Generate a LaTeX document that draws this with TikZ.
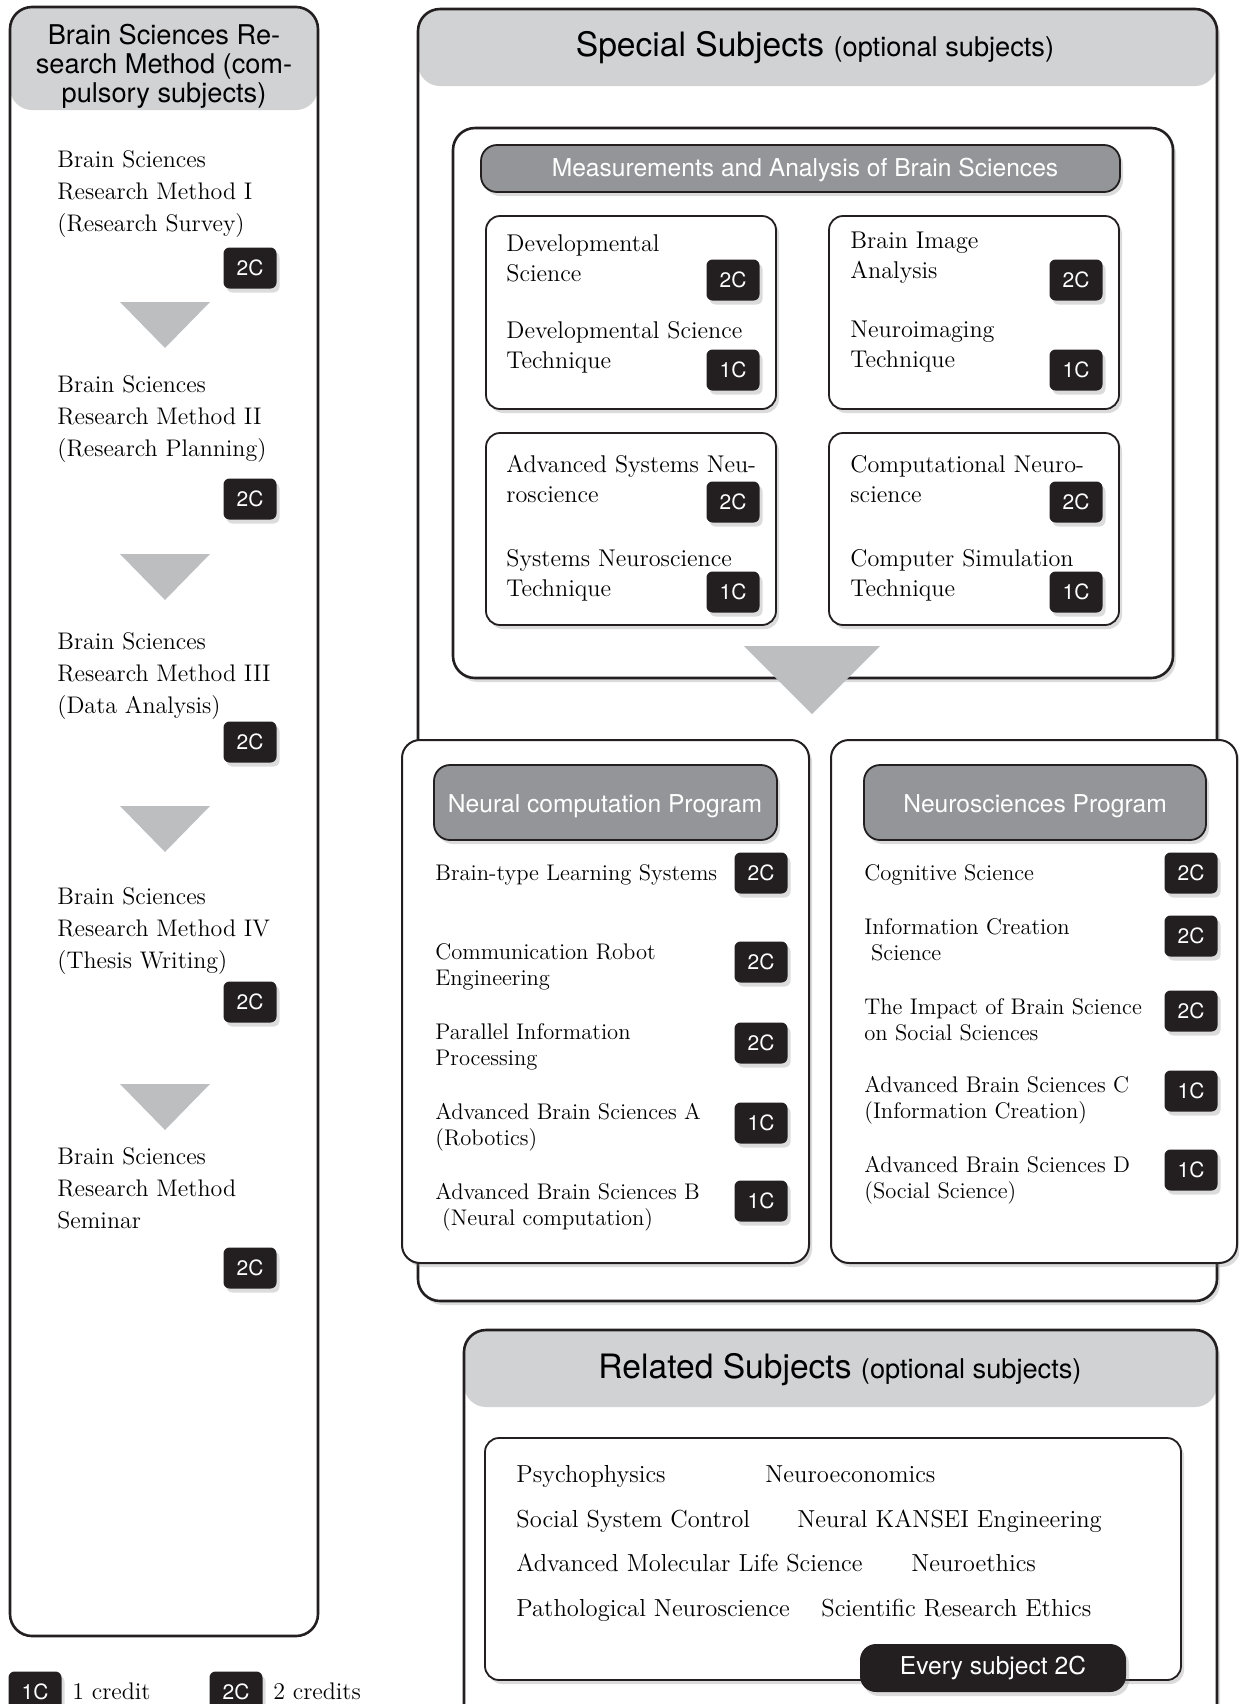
\documentclass[tikz,border=0pt]{standalone}
\usepackage{fontspec}
\setsansfont{TeX Gyre Heros}
\usetikzlibrary{shadows, positioning}
\definecolor{barlight}{HTML}{D1D2D4}
\definecolor{bardark}{HTML}{939598}
\definecolor{arrowgray}{HTML}{BCBEC0}
\definecolor{inkblack}{HTML}{231F20}

\begin{document}
\begin{tikzpicture}[x=0.5pt, y=-0.5pt,
    frame/.style={draw=inkblack, line width=1.3pt, rounded corners=11pt},
    softshadow/.style={drop shadow={opacity=0.28, shadow xshift=1.5pt, shadow yshift=-2pt}},
    subbox/.style={draw=inkblack, line width=0.9pt, rounded corners=7pt, fill=white, softshadow},
    darkbar/.style={draw=inkblack, line width=0.9pt, fill=bardark, rounded corners=8pt, softshadow},
    bartext/.style={text=white, font=\sffamily\fontsize{12.3}{12.3}\selectfont},
    title/.style={font=\sffamily},
    credit/.style={fill=inkblack, text=white, rounded corners=3pt, minimum width=26.5pt, minimum height=20.5pt, inner sep=0pt, font=\sffamily\fontsize{10.5}{10.5}\selectfont, softshadow},
    subj/.style={anchor=west, align=left, inner sep=0pt},
    oneline/.style={text height=0.7em, text depth=0.22em},
    colfont/.style={font=\fontsize{12}{16}\selectfont},
    boxfont/.style={font=\fontsize{12.1}{15}\selectfont},
    progfont/.style={font=\fontsize{11.3}{13}\selectfont},
    relfont/.style={font=\fontsize{12.3}{14}\selectfont}]

    \useasboundingbox (0,0) rectangle (1239,1704);
    \clip (0,0) rectangle (1239,1704);

    \coordinate (L1) at (10,7);
    \coordinate (L2) at (318,1636);
    \coordinate (S1) at (418,9);
    \coordinate (S2) at (1217,1301);
    \coordinate (R1) at (464,1330);
    \coordinate (R2) at (1217,1760);

    % compulsory column
    \fill[barlight, rounded corners=11pt] (L1) rectangle (318,110);
    \draw[frame] (L1) rectangle (L2);
    \node[title, align=center, font=\sffamily\fontsize{13.6}{14.5}\selectfont] (compulsory) at (164,66)
        {Brain Sciences Re-\\search Method (com-\\pulsory subjects)};

    \node[subj, colfont] (rm1) at (57,194) {Brain Sciences\\Research Method I\\(Research Survey)};
    \node[subj, colfont] (rm2) at (57,419) {Brain Sciences\\Research Method II\\(Research Planning)};
    \node[subj, colfont] (rm3) at (57,676) {Brain Sciences\\Research Method III\\(Data Analysis)};
    \node[subj, colfont] (rm4) at (57,931) {Brain Sciences\\Research Method IV\\(Thesis Writing)};
    \node[subj, colfont] (rm5) at (57,1188) {Brain Sciences\\Research Method\\Seminar};

    \foreach \y [count=\i] in {268,499,742,1002,1268}
        \node[credit] (rmc\i) at (250,\y) {2C};
    \foreach \t in {302,554,806,1084}
        \fill[arrowgray] (120,\t) -- (210,\t) -- (165,\t+46) -- cycle;

    % special subjects
    \fill[white, rounded corners=11pt, softshadow] (S1) rectangle (S2);
    \fill[barlight, rounded corners=11pt] (S1) rectangle (1217,86);
    \draw[frame] (S1) rectangle (S2);
    \node[title] (special) at (815,48)
        {\fontsize{16.8}{17}\selectfont Special Subjects {\fontsize{13.6}{14}\selectfont(optional subjects)}};

    \draw[frame, fill=white, softshadow] (453,128) rectangle (1173,678);
    \draw[darkbar] (481,145) rectangle (1120,192);
    \node[bartext] (measure) at (805,170) {Measurements and Analysis of Brain Sciences};

    \draw[subbox] (486,216) rectangle (776,409);
    \draw[subbox] (829,216) rectangle (1119,409);
    \draw[subbox] (486,433) rectangle (776,625);
    \draw[subbox] (829,433) rectangle (1119,625);

    \node[subj, boxfont] (devsci) at (506,258) {Developmental\\Science};
    \node[subj, boxfont] (devtec) at (506,347) {Developmental Science\\Technique};
    \node[subj, boxfont] (imgana) at (850,258) {Brain Image\\Analysis};
    \node[subj, boxfont] (imgtec) at (850,347) {Neuroimaging\\Technique};
    \node[subj, boxfont] (syssci) at (506,479) {Advanced Systems Neu-\\roscience};
    \node[subj, boxfont] (systec) at (506,575) {Systems Neuroscience\\Technique};
    \node[subj, boxfont] (compsci) at (850,479) {Computational Neuro-\\science};
    \node[subj, boxfont] (comptec) at (850,575) {Computer Simulation\\Technique};

    \foreach \x in {733,1076} {
        \node[credit] at (\x,280) {2C};
        \node[credit] at (\x,370) {1C};
        \node[credit] at (\x,502) {2C};
        \node[credit] at (\x,592) {1C};
    }

    \fill[arrowgray] (744,646) -- (880,646) -- (812,714) -- cycle;

    % programs
    \draw[frame, rounded corners=9pt, line width=1pt, fill=white, softshadow] (402,740) rectangle (809,1263);
    \draw[frame, rounded corners=9pt, line width=1pt, fill=white, softshadow] (831,740) rectangle (1237,1263);
    \draw[darkbar] (434,765) rectangle (777,840);
    \draw[darkbar] (864,765) rectangle (1206,840);
    \node[bartext] (neuralprog) at (605,806) {Neural computation Program};
    \node[bartext] (neuroprog) at (1035,806) {Neurosciences Program};

    \node[subj, oneline, progfont] (learn) at (435,876) {Brain-type Learning Systems};
    \node[subj, progfont] (robot) at (435,967) {Communication Robot\\Engineering};
    \node[subj, progfont] (parallel) at (435,1047) {Parallel Information\\Processing};
    \node[subj, progfont] (absa) at (435,1127) {Advanced Brain Sciences A\\(Robotics)};
    \node[subj, progfont] (absb) at (435,1207) {Advanced Brain Sciences B\\\hspace*{0.3em}(Neural computation)};

    \node[subj, oneline, progfont] (cogsci) at (864,876) {Cognitive Science};
    \node[subj, progfont] (infocr) at (864,940) {Information Creation\\\hspace*{0.3em}Science};
    \node[subj, progfont] (impact) at (864,1020) {The Impact of Brain Science\\on Social Sciences};
    \node[subj, progfont] (absc) at (864,1100) {Advanced Brain Sciences C\\(Information Creation)};
    \node[subj, progfont] (absd) at (864,1180) {Advanced Brain Sciences D\\(Social Science)};

    \node[credit] at (761,873) {2C};
    \node[credit] at (761,962) {2C};
    \node[credit] at (761,1043) {2C};
    \node[credit] at (761,1123) {1C};
    \node[credit] at (761,1201) {1C};
    \node[credit] at (1191,873) {2C};
    \node[credit] at (1191,936) {2C};
    \node[credit] at (1191,1011) {2C};
    \node[credit] at (1191,1091) {1C};
    \node[credit] at (1191,1170) {1C};

    % related subjects
    \fill[white, rounded corners=11pt, softshadow] (R1) rectangle (R2);
    \fill[barlight, rounded corners=11pt] (R1) rectangle (1217,1407);
    \draw[frame] (R1) rectangle (R2);
    \node[title] (related) at (840,1370)
        {\fontsize{16.8}{17}\selectfont Related Subjects {\fontsize{13.6}{14}\selectfont(optional subjects)}};

    \draw[subbox] (485,1438) rectangle (1181,1680);
    \node[subj, oneline, relfont] (psy) at (516,1478) {Psychophysics};
    \node[subj, oneline, relfont] (econ) at (765,1478) {Neuroeconomics};
    \node[subj, oneline, relfont] (social) at (516,1523) {Social System Control};
    \node[subj, oneline, relfont] (kansei) at (797,1523) {Neural KANSEI Engineering};
    \node[subj, oneline, relfont] (molec) at (516,1567) {Advanced Molecular Life Science};
    \node[subj, oneline, relfont] (ethics) at (911,1567) {Neuroethics};
    \node[subj, oneline, relfont] (patho) at (516,1612) {Pathological Neuroscience};
    \node[subj, oneline, relfont] (research) at (821,1612) {Scientific Research Ethics};

    \node[fill=inkblack, rounded corners=8pt, minimum width=133pt, minimum height=24pt, softshadow,
        bartext] (every) at (993,1668) {Every subject 2C};

    % legend
    \node[credit] (one) at (35,1692) {1C};
    \node[subj, oneline, colfont, right=5pt of one, yshift=-1.5pt] (onelbl) {1 credit};
    \node[credit] (two) at (236,1692) {2C};
    \node[subj, oneline, colfont, right=5pt of two, yshift=-1.5pt] (twolbl) {2 credits};
\end{tikzpicture}
\end{document}
